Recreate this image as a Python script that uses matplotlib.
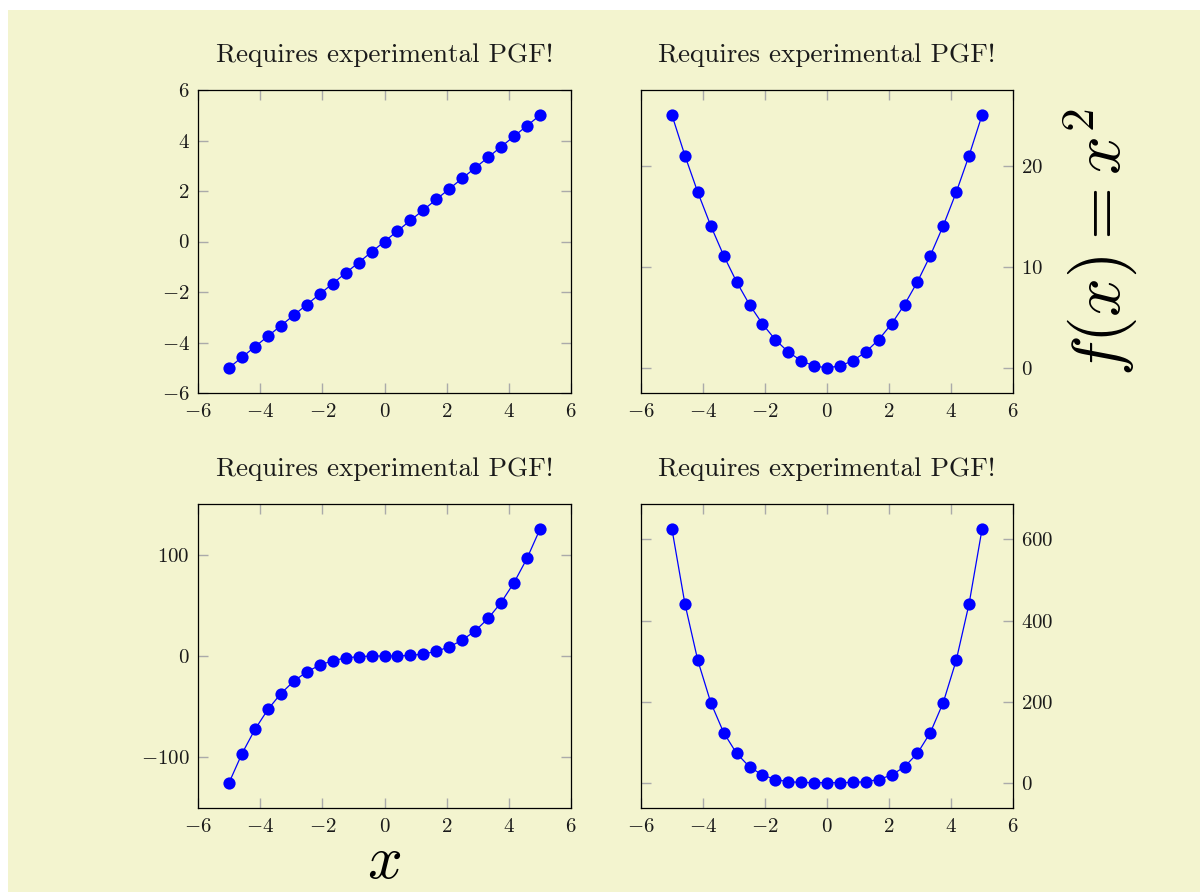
import matplotlib
matplotlib.use("Agg")
import matplotlib.pyplot as plt
from matplotlib.patches import Rectangle

plt.rcParams.update({
    "font.family": "serif",
    "font.serif": ["cmr10", "DejaVu Serif"],
    "mathtext.fontset": "cm",
    "axes.formatter.use_mathtext": True,
    "axes.unicode_minus": True,
})

# Sample points and the four power curves
x = [-5.0, -4.5833, -4.1667, -3.75, -3.3333, -2.9167, -2.5, -2.0833, -1.6667,
     -1.25, -0.8333, -0.4167, 0.0, 0.4167, 0.8333, 1.25, 1.6667, 2.0833, 2.5,
     2.9167, 3.3333, 3.75, 4.1667, 4.5833, 5.0]
y1 = [-5.0, -4.5833, -4.1667, -3.75, -3.3333, -2.9167, -2.5, -2.0833, -1.6667,
      -1.25, -0.8333, -0.4167, 0.0, 0.4167, 0.8333, 1.25, 1.6667, 2.0833, 2.5,
      2.9167, 3.3333, 3.75, 4.1667, 4.5833, 5.0]
y2 = [25.0, 21.007, 17.361, 14.0625, 11.111, 8.507, 6.25, 4.340, 2.778, 1.5625,
      0.694, 0.174, 0.0, 0.174, 0.694, 1.5625, 2.778, 4.340, 6.25, 8.507, 11.111,
      14.0625, 17.361, 21.007, 25.0]
y3 = [-125.0, -96.28, -72.34, -52.73, -37.04, -24.81, -15.625, -9.042, -4.630,
      -1.953, -0.579, -0.072, 0.0, 0.072, 0.579, 1.953, 4.630, 9.042, 15.625,
      24.81, 37.04, 52.73, 72.34, 96.28, 125.0]
y4 = [625.0, 441.3, 301.4, 197.75, 123.46, 72.37, 39.06, 18.84, 7.716, 2.441,
      0.482, 0.030, 0.0, 0.030, 0.482, 2.441, 7.716, 18.84, 39.06, 72.37, 123.46,
      197.75, 301.4, 441.3, 625.0]

x_ticks = [-6, -4, -2, 0, 2, 4, 6]
y_ticks = [
    [-6, -4, -2, 0, 2, 4, 6],
    [0, 10, 20],
    [-100, 0, 100],
    [0, 200, 400, 600],
]
title_text = "Requires experimental PGF!"

W, H = 1200, 892
fig = plt.figure(figsize=(W / 100, H / 100), dpi=100, facecolor="white")
bg = "#f3f4cf"
fig.patches.append(Rectangle((8 / W, 0), 1 - 8 / W, 1 - 10 / H,
                             transform=fig.transFigure, facecolor=bg,
                             edgecolor="none", zorder=-10))


def px_axes(l, t, r, b):
    return fig.add_axes([l / W, 1 - b / H, (r - l) / W, (b - t) / H])


boxes = [(198, 90, 571, 393), (641, 90, 1013, 393),
         (198, 504, 571, 808), (641, 504, 1013, 808)]
series = [y1, y2, y3, y4]

axes = []
for i, (box, ys, yt) in enumerate(zip(boxes, series, y_ticks)):
    ax = px_axes(*box)
    ax.set_facecolor("none")
    ax.plot(x, ys, color="#0000ff", lw=0.9, marker="o", markersize=8.8,
            markeredgewidth=0)
    ax.margins(0.1)
    ax.set_xticks(x_ticks)
    ax.set_yticks(yt)
    right = (i % 2 == 1)
    ax.tick_params(direction="in", top=True, right=True, length=7, width=1.0,
                   color="#aaaaaa", labelsize=15, labelcolor="#1a1a1a",
                   labelleft=not right, labelright=right)
    ax.tick_params(axis="x", pad=7)
    ax.tick_params(axis="y", pad=6)
    for s in ax.spines.values():
        s.set_linewidth(0.9)
        s.set_color("black")
    ax.set_title(title_text, fontsize=19.5, pad=20, color="#1a1a1a")
    axes.append(ax)

axes[2].set_xlabel(r"$x$", fontsize=44, labelpad=-0.5)
axes[1].yaxis.set_label_position("right")
axes[1].set_ylabel(r"$f(x) = x^2$", fontsize=49, labelpad=12)

fig.savefig("out.png", dpi=100, facecolor="white")
